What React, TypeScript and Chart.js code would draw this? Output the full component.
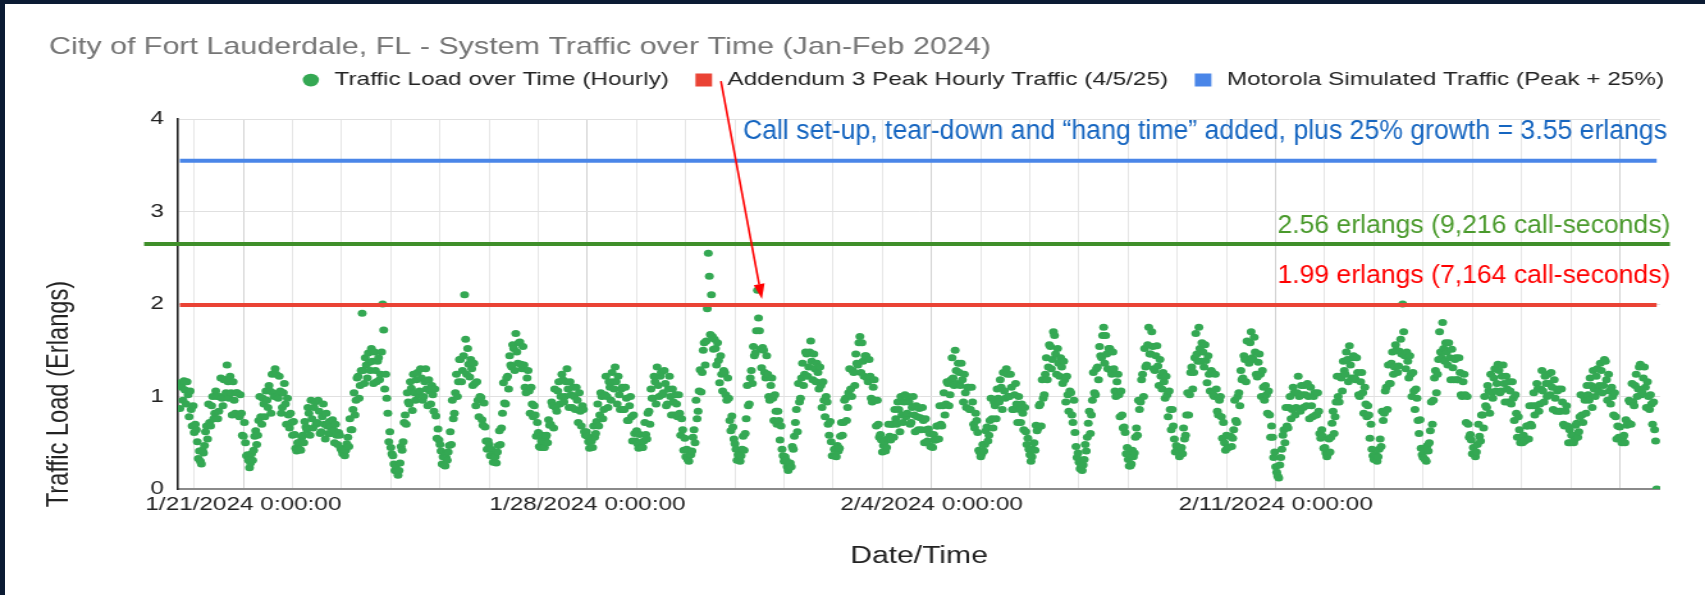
import React, { useEffect, useRef } from 'react';
import { Chart, registerables } from 'chart.js';

Chart.register(...registerables);

// ---------------- data ----------------
const CHART_TITLE = 'City of Fort Lauderdale, FL - System Traffic over Time (Jan-Feb 2024)';
const SERIES_LABELS = [
  'Traffic Load over Time (Hourly)',
  'Addendum 3 Peak Hourly Traffic (4/5/25)',
  'Motorola Simulated Traffic (Peak + 25%)',
];
const X_AXIS_TITLE = 'Date/Time';
const Y_AXIS_TITLE = 'Traffic Load (Erlangs)';

// x axis unit: days since 1/21/2024 0:00:00
const X_TICK_DAYS = [0, 7, 14, 21];
const X_TICK_LABELS = ['1/21/2024 0:00:00', '1/28/2024 0:00:00', '2/4/2024 0:00:00', '2/11/2024 0:00:00'];
const X_GRID_DAYS = [-1, 0, 1, 2, 3, 4, 5, 6, 7, 8, 9, 10, 11, 12, 13, 14, 15, 16, 17, 18, 19, 20, 21, 22, 23, 24, 25, 26, 27, 28];
const X_RANGE = [-1.33, 28.82];
const Y_RANGE = [0, 4];

// rolling hourly load, read every 30 minutes, first sample 1/19/2024 17:00
const FIRST_SAMPLE_HOUR = -31; // hours relative to 1/21 0:00
const SAMPLES_PER_HOUR = 2;

const LOAD_JAN19_JAN22 = [
  // 1/19 17:00-23:30
  0.87, 1.15, 1.1, 0.96, 1.17, 1.07, 0.92, 1.16, 1.02, 0.78, 1.06, 0.86, 0.68, 0.9,
  // 1/20
  0.61, 0.7, 0.64, 0.51, 0.33, 0.41, 0.3, 0.27, 0.42, 0.39, 0.47, 0.62, 0.68, 0.54, 0.92, 0.72, 0.68, 0.9, 1.0, 0.76, 0.82, 1.06, 1.0, 0.76,
  0.84, 1.0, 1.2, 0.98, 0.9, 1.18, 1.18, 1.04, 1.34, 1.16, 0.98, 1.22, 1.04, 0.8, 1.16, 0.96, 0.82, 1.04, 1.04, 0.8, 0.78, 1.02, 0.82, 0.58,
  // 1/21
  0.57, 0.72, 0.5, 0.36, 0.37, 0.31, 0.23, 0.28, 0.38, 0.31, 0.42, 0.57, 0.63, 0.48, 0.58, 0.74, 1.0, 0.78, 0.7, 0.98, 0.92, 0.78, 1.06, 0.96,
  0.88, 1.12, 1.06, 0.82, 1.24, 1.04, 1.0, 1.3, 1.24, 1.0, 0.98, 1.22, 1.06, 0.82, 0.88, 1.04, 1.14, 0.92, 0.7, 0.98, 0.8, 0.66, 0.82, 0.72,
  // 1/22
  0.58, 0.73, 0.59, 0.44, 0.41, 0.5, 0.5, 0.43, 0.42, 0.56, 0.58, 0.5, 0.73, 0.67, 0.64, 0.88, 0.82, 0.58, 0.96, 0.76, 0.66, 0.88, 0.94, 0.7,
  0.72, 0.96, 0.84, 0.6, 0.62, 0.78, 0.92, 0.7, 0.54, 0.82, 0.68, 0.6, 0.73, 0.67, 0.6, 0.75, 0.64, 0.5, 0.7, 0.58, 0.48, 0.61, 0.58, 0.44,
];

const LOAD_JAN23_JAN26 = [
  // 1/23
  0.42, 0.38, 0.4, 0.36, 0.42, 0.49, 0.56, 0.46, 0.76, 0.64, 0.64, 0.86, 1.04, 0.8, 0.96, 1.2, 1.22, 0.98, 1.12, 1.28, 1.9, 1.28, 1.14, 1.42,
  1.34, 1.2, 1.47, 1.37, 1.28, 1.52, 1.38, 1.14, 1.48, 1.28, 1.16, 1.38, 1.42, 1.18, 1.24, 1.48, 2.0, 1.72, 1.08, 1.24, 0.98, 0.82, 0.51, 0.62,
  // 1/24
  0.45, 0.38, 0.36, 0.27, 0.2, 0.25, 0.19, 0.15, 0.2, 0.28, 0.46, 0.42, 0.51, 0.72, 0.8, 0.7, 1.04, 0.94, 0.92, 1.16, 1.09, 0.85, 1.24, 1.04,
  0.96, 1.18, 1.26, 1.02, 1.06, 1.3, 1.2, 0.96, 1.0, 1.16, 1.3, 1.08, 0.9, 1.18, 1.06, 0.92, 1.12, 1.02, 0.84, 1.08, 0.79, 0.55, 0.65, 0.53,
  // 1/25
  0.48, 0.41, 0.27, 0.35, 0.26, 0.25, 0.34, 0.31, 0.4, 0.47, 0.62, 0.48, 0.96, 0.76, 0.82, 1.04, 1.24, 1.0, 1.16, 1.4, 1.4, 1.16, 1.28, 1.44,
  2.1, 1.62, 1.24, 1.52, 1.35, 1.21, 1.4, 1.3, 1.12, 1.36, 1.14, 0.9, 1.16, 0.96, 0.78, 1.0, 0.99, 0.75, 0.69, 0.93, 0.67, 0.52, 0.43, 0.52,
  // 1/26
  0.48, 0.36, 0.43, 0.37, 0.29, 0.35, 0.35, 0.28, 0.4, 0.47, 0.63, 0.48, 0.66, 0.82, 1.15, 0.93, 0.92, 1.2, 1.22, 1.08, 1.44, 1.34, 1.32, 1.56,
  1.52, 1.28, 1.68, 1.48, 1.36, 1.58, 1.59, 1.35, 1.3, 1.54, 1.34, 1.1, 1.04, 1.2, 1.28, 1.06, 0.82, 1.1, 0.92, 0.78, 0.9, 0.8, 0.57, 0.72,
];

const LOAD_JAN27_JAN30 = [
  // 1/27
  0.61, 0.46, 0.45, 0.52, 0.58, 0.45, 0.45, 0.56, 0.58, 0.5, 0.75, 0.69, 0.7, 0.94, 0.9, 0.66, 1.08, 0.88, 0.84, 1.06, 1.16, 0.92, 1.0, 1.24,
  1.18, 0.94, 1.0, 1.16, 1.3, 1.08, 0.88, 1.16, 1.02, 0.88, 1.1, 1.0, 0.86, 1.1, 0.96, 0.72, 1.04, 0.84, 0.68, 0.9, 0.86, 0.62, 0.58, 0.62,
  // 1/28
  0.57, 0.51, 0.44, 0.55, 0.52, 0.45, 0.68, 0.56, 0.6, 0.73, 0.92, 0.68, 0.8, 1.04, 1.0, 0.76, 0.86, 1.02, 1.22, 1.0, 0.88, 1.16, 1.1, 0.96,
  1.26, 1.16, 1.08, 1.32, 1.16, 0.92, 1.22, 1.02, 0.86, 1.08, 1.1, 0.86, 0.86, 1.1, 0.98, 0.74, 0.74, 0.9, 1.0, 0.78, 0.52, 0.8, 0.6, 0.52,
  // 1/29
  0.63, 0.49, 0.44, 0.59, 0.5, 0.45, 0.45, 0.52, 0.72, 0.59, 0.54, 0.82, 0.84, 0.7, 1.08, 0.98, 0.98, 1.22, 1.16, 0.92, 1.32, 1.12, 1.0, 1.22,
  1.26, 1.02, 1.04, 1.28, 1.14, 0.9, 0.92, 1.08, 1.22, 1.0, 0.8, 1.08, 0.94, 0.8, 1.02, 0.92, 0.78, 1.02, 0.82, 0.58, 0.76, 0.64, 0.42, 0.55,
  // 1/30
  0.35, 0.43, 0.32, 0.3, 0.4, 0.37, 0.41, 0.56, 0.64, 0.5, 0.96, 0.76, 0.84, 1.06, 1.29, 1.05, 1.26, 1.5, 1.58, 1.34, 1.6, 1.95, 2.55, 2.3,
  1.67, 2.1, 1.65, 1.51, 1.62, 1.52, 1.34, 1.58, 1.39, 1.15, 1.44, 1.24, 1.06, 1.28, 1.26, 1.02, 0.96, 1.2, 0.98, 0.74, 0.63, 0.79, 0.67, 0.54,
];

const LOAD_JAN31_FEB03 = [
  // 1/31
  0.49, 0.43, 0.31, 0.37, 0.35, 0.3, 0.36, 0.43, 0.57, 0.42, 0.6, 0.76, 1.12, 0.9, 0.92, 1.2, 1.28, 1.14, 1.54, 1.44, 1.47, 1.71, 2.15, 1.85,
  1.71, 1.51, 1.31, 1.53, 1.5, 1.26, 1.2, 1.44, 1.24, 1.0, 0.96, 1.12, 1.2, 0.98, 0.74, 1.02, 0.84, 0.7, 0.84, 0.74, 0.53, 0.68, 0.43, 0.36,
  // 2/1
  0.3, 0.35, 0.31, 0.24, 0.2, 0.23, 0.28, 0.24, 0.46, 0.43, 0.57, 0.72, 0.86, 0.62, 1.14, 0.94, 0.98, 1.2, 1.36, 1.12, 1.24, 1.48, 1.46, 1.22,
  1.32, 1.48, 1.6, 1.38, 1.18, 1.46, 1.3, 1.16, 1.36, 1.26, 1.08, 1.32, 1.12, 0.88, 1.16, 0.96, 0.78, 1.0, 0.94, 0.7, 0.58, 0.73, 0.51, 0.36,
  // 2/2
  0.36, 0.43, 0.36, 0.35, 0.47, 0.41, 0.44, 0.57, 0.72, 0.58, 0.72, 0.96, 0.98, 0.74, 0.88, 1.04, 1.3, 1.08, 1.0, 1.28, 1.26, 1.12, 1.46, 1.36,
  1.34, 1.58, 1.65, 1.26, 1.58, 1.38, 1.22, 1.44, 1.44, 1.2, 1.16, 1.4, 1.22, 0.98, 0.94, 1.1, 1.18, 0.96, 0.68, 0.96, 0.7, 0.56, 0.59, 0.53,
  // 2/3
  0.4, 0.47, 0.51, 0.41, 0.45, 0.54, 0.7, 0.57, 0.53, 0.7, 0.7, 0.56, 0.86, 0.76, 0.7, 0.94, 0.86, 0.62, 1.0, 0.8, 0.72, 0.94, 1.02, 0.78,
  0.82, 1.0, 0.94, 0.7, 0.72, 0.88, 1.0, 0.8, 0.62, 0.9, 0.78, 0.64, 0.87, 0.77, 0.64, 0.88, 0.74, 0.5, 0.76, 0.64, 0.52, 0.65, 0.6, 0.46,
];

const LOAD_FEB04_FEB07 = [
  // 2/4
  0.46, 0.45, 0.59, 0.53, 0.53, 0.68, 0.68, 0.54, 0.9, 0.7, 0.68, 0.9, 1.04, 0.8, 0.92, 1.16, 1.14, 0.9, 1.02, 1.18, 1.42, 1.2, 1.12, 1.5,
  1.28, 1.14, 1.36, 1.26, 1.12, 1.36, 1.18, 0.94, 1.24, 1.04, 0.88, 1.1, 1.1, 0.86, 0.86, 1.1, 0.94, 0.7, 0.66, 0.82, 0.74, 0.61, 0.42, 0.4,
  // 2/5
  0.35, 0.38, 0.48, 0.41, 0.48, 0.63, 0.67, 0.52, 0.58, 0.74, 0.98, 0.76, 0.66, 0.94, 0.9, 0.76, 1.08, 0.98, 0.94, 1.18, 1.1, 0.86, 1.26, 1.06,
  0.98, 1.3, 1.24, 1.0, 1.0, 1.24, 1.1, 0.86, 0.86, 1.02, 1.14, 0.92, 0.72, 1.0, 0.86, 0.72, 0.92, 0.82, 0.64, 0.88, 0.62, 0.48, 0.55, 0.43,
  // 2/6
  0.37, 0.3, 0.35, 0.43, 0.5, 0.42, 0.69, 0.63, 0.66, 0.9, 0.92, 0.68, 1.18, 0.98, 1.02, 1.24, 1.42, 1.18, 1.32, 1.56, 1.54, 1.3, 1.4, 1.7,
  1.66, 1.46, 1.24, 1.52, 1.36, 1.22, 1.42, 1.32, 1.14, 1.38, 1.18, 0.94, 1.22, 1.02, 0.84, 1.06, 1.04, 0.8, 0.72, 0.96, 0.61, 0.46, 0.34, 0.39,
  // 2/7
  0.29, 0.22, 0.26, 0.2, 0.26, 0.32, 0.48, 0.41, 0.56, 0.71, 0.84, 0.6, 0.8, 0.96, 1.26, 1.04, 1.02, 1.3, 1.32, 1.18, 1.54, 1.44, 1.42, 1.66,
  1.75, 1.36, 1.66, 1.46, 1.3, 1.52, 1.52, 1.28, 1.24, 1.48, 1.3, 1.06, 1.0, 1.16, 1.24, 1.02, 0.78, 1.06, 0.8, 0.66, 0.67, 0.61, 0.38, 0.45,
];

const LOAD_FEB08_FEB11 = [
  // 2/8
  0.32, 0.25, 0.25, 0.27, 0.42, 0.35, 0.39, 0.56, 0.66, 0.58, 0.96, 0.86, 0.94, 1.18, 1.24, 1.0, 1.52, 1.32, 1.34, 1.56, 1.75, 1.46, 1.46, 1.7,
  1.54, 1.3, 1.28, 1.44, 1.55, 1.33, 1.12, 1.4, 1.22, 1.08, 1.26, 1.16, 0.98, 1.22, 1.02, 0.78, 1.06, 0.86, 0.64, 0.86, 0.68, 0.54, 0.4, 0.47,
  // 2/9
  0.44, 0.41, 0.35, 0.41, 0.45, 0.38, 0.66, 0.54, 0.58, 0.8, 1.04, 0.8, 1.02, 1.26, 1.32, 1.08, 1.26, 1.42, 1.68, 1.46, 1.38, 1.75, 1.52, 1.38,
  1.58, 1.48, 1.32, 1.56, 1.39, 1.15, 1.44, 1.24, 1.06, 1.28, 1.26, 1.02, 1.0, 1.24, 1.08, 0.84, 0.8, 0.96, 1.0, 0.78, 0.55, 0.72, 0.5, 0.42,
  // 2/10
  0.58, 0.45, 0.45, 0.57, 0.57, 0.46, 0.55, 0.64, 0.96, 0.74, 0.72, 1.0, 1.04, 0.9, 1.28, 1.18, 1.2, 1.44, 1.4, 1.16, 1.6, 1.4, 1.36, 1.58,
  1.7, 1.42, 1.4, 1.64, 1.48, 1.24, 1.21, 1.37, 1.46, 1.24, 1.0, 1.28, 1.1, 0.96, 1.12, 1.02, 0.82, 1.06, 0.8, 0.56, 0.68, 0.56, 0.34, 0.4,
  // 2/11
  0.24, 0.18, 0.14, 0.12, 0.26, 0.34, 0.43, 0.58, 0.64, 0.5, 0.88, 0.68, 0.66, 0.88, 1.0, 0.76, 0.86, 1.1, 1.04, 0.8, 0.88, 1.04, 1.22, 1.0,
  0.84, 1.12, 1.02, 0.88, 1.12, 1.02, 0.9, 1.14, 1.0, 0.76, 1.1, 0.9, 0.78, 1.0, 1.04, 0.8, 0.8, 1.04, 0.84, 0.6, 0.55, 0.64, 0.57, 0.44,
];

const LOAD_FEB12_FEB15 = [
  // 2/12
  0.45, 0.39, 0.35, 0.38, 0.54, 0.4, 0.56, 0.71, 0.84, 0.6, 0.78, 0.94, 1.22, 1.0, 0.94, 1.22, 1.2, 1.06, 1.38, 1.28, 1.24, 1.48, 1.4, 1.16,
  1.55, 1.34, 1.2, 1.42, 1.44, 1.2, 1.18, 1.42, 1.26, 1.02, 1.0, 1.16, 1.26, 1.04, 0.82, 1.1, 0.92, 0.78, 0.9, 0.8, 0.55, 0.7, 0.43, 0.36,
  // 2/13
  0.32, 0.37, 0.37, 0.3, 0.35, 0.43, 0.54, 0.46, 0.84, 0.74, 0.82, 1.06, 1.1, 0.86, 1.34, 1.14, 1.14, 1.36, 1.48, 1.24, 1.32, 1.56, 1.5, 1.26,
  1.33, 1.49, 1.62, 1.46, 2.0, 1.7, 1.44, 1.3, 1.48, 1.38, 1.2, 1.44, 1.24, 1.0, 1.26, 1.06, 0.86, 1.08, 0.98, 0.74, 0.6, 0.75, 0.44, 0.37,
  // 2/14
  0.34, 0.41, 0.32, 0.3, 0.47, 0.41, 0.5, 0.63, 0.94, 0.7, 0.96, 1.2, 1.28, 1.04, 1.24, 1.4, 1.7, 1.48, 1.42, 1.8, 1.52, 1.38, 1.58, 1.48,
  1.34, 1.58, 1.42, 1.18, 1.51, 1.31, 1.18, 1.4, 1.42, 1.18, 1.18, 1.42, 1.26, 1.02, 1.0, 1.16, 1.24, 1.02, 0.72, 1.0, 0.7, 0.56, 0.59, 0.53,
  // 2/15
  0.38, 0.45, 0.38, 0.35, 0.4, 0.48, 0.7, 0.57, 0.52, 0.8, 0.8, 0.66, 1.0, 0.9, 0.88, 1.12, 1.06, 0.82, 1.24, 1.04, 0.98, 1.2, 1.3, 1.06,
  1.14, 1.35, 1.28, 1.04, 1.06, 1.22, 1.34, 1.14, 0.94, 1.22, 1.08, 0.94, 1.16, 1.06, 0.92, 1.16, 0.98, 0.74, 1.02, 0.82, 0.56, 0.78, 0.64, 0.5,
];

const LOAD_FEB16_FEB18 = [
  // 2/16
  0.55, 0.5, 0.58, 0.52, 0.53, 0.68, 0.68, 0.54, 0.9, 0.7, 0.68, 0.9, 1.04, 0.8, 0.9, 1.14, 1.08, 0.84, 0.92, 1.08, 1.28, 1.06, 0.94, 1.22,
  1.14, 1.0, 1.24, 1.14, 1.02, 1.26, 1.1, 0.86, 1.18, 0.98, 0.84, 1.06, 1.08, 0.84, 0.84, 1.08, 0.94, 0.7, 0.68, 0.84, 0.9, 0.68, 0.5, 0.64,
  // 2/17
  0.5, 0.58, 0.58, 0.5, 0.54, 0.69, 0.71, 0.56, 0.62, 0.78, 1.02, 0.8, 0.72, 1.0, 0.96, 0.82, 1.12, 1.02, 0.96, 1.2, 1.12, 0.88, 1.28, 1.08,
  1.0, 1.22, 1.3, 1.06, 1.12, 1.36, 1.28, 1.04, 1.12, 1.4, 1.38, 1.18, 0.96, 1.24, 1.06, 0.92, 1.1, 1.0, 0.8, 1.04, 0.78, 0.54, 0.68, 0.56,
  // 2/18 0:00-18:00
  0.67, 0.54, 0.5, 0.56, 0.58, 0.5, 0.75, 0.69, 0.72, 0.96, 0.94, 0.7, 1.14, 0.94, 0.9, 1.12, 1.24, 1.0, 1.08, 1.32, 1.35, 1.02, 1.04, 1.2,
  1.32, 1.1, 0.88, 1.16, 1.0, 0.86, 1.02, 0.92, 0.7, 0.94, 0.64, 0.52, 0.0,
];

const LOAD_SAMPLES = [
  ...LOAD_JAN19_JAN22,
  ...LOAD_JAN23_JAN26,
  ...LOAD_JAN27_JAN30,
  ...LOAD_JAN31_FEB03,
  ...LOAD_FEB04_FEB07,
  ...LOAD_FEB08_FEB11,
  ...LOAD_FEB12_FEB15,
  ...LOAD_FEB16_FEB18,
];

const ADDENDUM_PEAK = 1.99;
const MOTOROLA_PEAK = 3.55;
// hand-drawn slide overlays (in data units)
const DRAWN_LINE_LEVEL = 2.65;
const DRAWN_LINE_SPAN = [-2.02, 29.02];
const NOTE_TEXTS = [
  'Call set-up, tear-down and \u201Chang time\u201D added, plus 25% growth = 3.55 erlangs',
  '2.56 erlangs (9,216 call-seconds)',
  '1.99 erlangs (7,164 call-seconds)',
];
const NOTE_ANCHORS = [
  { x: 28.96, y: 3.86 },
  { x: 29.03, y: 2.84 },
  { x: 29.03, y: 2.3 },
];
const ARROW_FROM = { x: 9.715, y: 4.41 };
const ARROW_TO = { x: 10.549, y: 2.054 };

// ---------------- styling ----------------
const FULL_W = 1705;
const FULL_H = 595;
const BMP_W = 1332;
const STRETCH = FULL_W / BMP_W;
const FONT = "'Liberation Sans', Arial, sans-serif";
const GREEN = '#34a853';
const RED = '#ea4335';
const BLUE = '#4a86e8';

const NOTE_STYLES = [
  { color: '#1565c0', size: 27, family: "'Liberation Sans Narrow', 'Liberation Sans', Arial, sans-serif", width: 924 },
  { color: '#4a9a2c', size: 25, family: FONT, width: 393 },
  { color: '#ff0000', size: 25, family: FONT, width: 393 },
];

const overlayPlugin = {
  id: 'slideOverlay',
  afterDraw(chart: any) {
    const { ctx, scales } = chart;
    const xs = scales.x;
    const ys = scales.y;
    ctx.save();
    ctx.strokeStyle = '#3f8f2a';
    ctx.lineWidth = 4;
    ctx.beginPath();
    ctx.moveTo(xs.getPixelForValue(DRAWN_LINE_SPAN[0]), ys.getPixelForValue(DRAWN_LINE_LEVEL));
    ctx.lineTo(xs.getPixelForValue(DRAWN_LINE_SPAN[1]), ys.getPixelForValue(DRAWN_LINE_LEVEL));
    ctx.stroke();

    NOTE_TEXTS.forEach((t, i) => {
      const st = NOTE_STYLES[i];
      const a = NOTE_ANCHORS[i];
      ctx.save();
      ctx.font = `${st.size}px ${st.family}`;
      ctx.fillStyle = st.color;
      ctx.textAlign = 'right';
      ctx.textBaseline = 'middle';
      const w = ctx.measureText(t).width;
      ctx.translate(xs.getPixelForValue(a.x), ys.getPixelForValue(a.y));
      ctx.scale(st.width / STRETCH / w, 1);
      ctx.fillText(t, 0, 0);
      ctx.restore();
    });

    const x0 = xs.getPixelForValue(ARROW_FROM.x);
    const y0 = ys.getPixelForValue(ARROW_FROM.y);
    const x1 = xs.getPixelForValue(ARROW_TO.x);
    const y1 = ys.getPixelForValue(ARROW_TO.y);
    const dxF = (x1 - x0) * STRETCH;
    const dyF = y1 - y0;
    const len = Math.hypot(dxF, dyF);
    const ux = dxF / len, uy = dyF / len;
    const headL = 15, headW = 5.5;
    const bx = x1 * STRETCH - ux * headL, by = y1 - uy * headL;
    ctx.strokeStyle = '#ff0000';
    ctx.fillStyle = '#ff0000';
    ctx.lineWidth = 1.6;
    ctx.beginPath();
    ctx.moveTo(x0, y0);
    ctx.lineTo(bx / STRETCH, by);
    ctx.stroke();
    ctx.beginPath();
    ctx.moveTo(x1, y1);
    ctx.lineTo((bx - uy * headW) / STRETCH, by + ux * headW);
    ctx.lineTo((bx + uy * headW) / STRETCH, by - ux * headW);
    ctx.closePath();
    ctx.fill();

    ctx.save();
    ctx.translate(chart.chartArea.left - 92.2, ys.getPixelForValue(1.027));
    ctx.rotate(-Math.PI / 2);
    ctx.font = `23.7px ${FONT}`;
    ctx.fillStyle = '#222';
    ctx.textAlign = 'center';
    ctx.textBaseline = 'middle';
    ctx.fillText(Y_AXIS_TITLE, 0, 0);
    ctx.restore();

    ctx.restore();
  },
};

export default function App() {
  const ref = useRef<HTMLCanvasElement>(null);

  useEffect(() => {
    const canvas = ref.current;
    if (!canvas) return;
    Chart.defaults.font.family = FONT;
    const sampleX = (i: number) => (FIRST_SAMPLE_HOUR + i / SAMPLES_PER_HOUR) / 24;
    const firstX = sampleX(0);
    const lastX = sampleX(LOAD_SAMPLES.length - 1);
    const chart = new Chart(canvas, {
      type: 'scatter',
      data: {
        datasets: [
          {
            label: SERIES_LABELS[0],
            data: LOAD_SAMPLES.map((v, i) => ({ x: sampleX(i), y: v })),
            backgroundColor: GREEN,
            borderColor: GREEN,
            pointRadius: 3.5,
            pointBorderWidth: 0,
            pointStyle: 'circle',
            order: 2,
          },
          {
            type: 'line',
            label: SERIES_LABELS[1],
            data: [{ x: firstX, y: ADDENDUM_PEAK }, { x: lastX, y: ADDENDUM_PEAK }],
            borderColor: RED,
            backgroundColor: RED,
            borderWidth: 4,
            pointRadius: 0,
            pointStyle: 'rect',
            order: 1,
          },
          {
            type: 'line',
            label: SERIES_LABELS[2],
            data: [{ x: firstX, y: MOTOROLA_PEAK }, { x: lastX, y: MOTOROLA_PEAK }],
            borderColor: BLUE,
            backgroundColor: BLUE,
            borderWidth: 4,
            pointRadius: 0,
            pointStyle: 'rect',
            order: 1,
          },
        ] as any,
      },
      options: {
        responsive: false,
        animation: false,
        devicePixelRatio: 1,
        events: [],
        layout: { padding: { left: 38.3, right: 13.7, top: 0, bottom: 0 } },
        plugins: {
          title: {
            display: true,
            text: CHART_TITLE,
            align: 'start',
            color: '#757575',
            font: { size: 23.8, weight: 'normal', lineHeight: 0.45 },
            padding: { top: 41.6, bottom: 0 },
          },
          subtitle: {
            display: true,
            text: '',
            weight: 500,
            font: { size: 10, lineHeight: 1 },
            padding: { top: 9.4, bottom: 0 },
          } as any,
          legend: {
            display: true,
            position: 'top',
            align: 'end',
            labels: {
              usePointStyle: true,
              boxWidth: 18,
              boxHeight: 9,
              padding: 18.3,
              color: '#222',
              font: { size: 19 },
              sort: (a: any, b: any) => a.datasetIndex - b.datasetIndex,
            },
          },
          tooltip: { enabled: false },
        },
        scales: {
          x: {
            type: 'linear',
            min: X_RANGE[0],
            max: X_RANGE[1],
            afterBuildTicks: (s: any) => {
              s.ticks = X_GRID_DAYS.map((d) => ({ value: d }));
            },
            afterFit: (s: any) => {
              s.height = 106;
            },
            ticks: {
              autoSkip: false,
              maxRotation: 0,
              minRotation: 0,
              padding: 4,
              color: '#222',
              font: { size: 19 },
              callback: (v: any) => {
                const i = X_TICK_DAYS.indexOf(Number(v));
                return i >= 0 ? X_TICK_LABELS[i] : '';
              },
            },
            grid: {
              drawTicks: false,
              lineWidth: 1,
              color: (c: any) => (c.tick && c.tick.value % 7 === 0 ? '#d2d2d2' : '#e6e6e6'),
            },
            border: { display: true, color: '#8a8a8a', width: 2 },
            title: {
              display: true,
              text: X_AXIS_TITLE,
              color: '#222',
              font: { size: 23.5 },
              padding: { top: 0, bottom: 23.9 },
            },
          },
          y: {
            type: 'linear',
            min: Y_RANGE[0],
            max: Y_RANGE[1],
            afterFit: (s: any) => {
              s.width = 100.76;
            },
            ticks: { stepSize: 1, padding: 11, color: '#222', font: { size: 19 } },
            grid: { drawTicks: false, color: '#e0e0e0', lineWidth: 1 },
            border: { display: true, color: '#222', width: 1.6 },
          },
          y2: {
            type: 'linear',
            position: 'right',
            display: true,
            min: 0,
            max: 4,
            afterFit: (s: any) => {
              s.width = 21.4;
            },
            ticks: { display: false },
            grid: { display: false },
            border: { display: false },
          },
        },
      } as any,
      plugins: [overlayPlugin],
    });
    return () => chart.destroy();
  }, []);

  return (
    <div
      style={{
        position: 'fixed',
        left: 0,
        top: 0,
        width: FULL_W,
        height: FULL_H,
        background: '#ffffff',
        overflow: 'hidden',
      }}
    >
      <canvas
        ref={ref}
        width={BMP_W}
        height={FULL_H}
        style={{ width: `${FULL_W}px`, height: `${FULL_H}px`, display: 'block' }}
      />
      <div style={{ position: 'absolute', left: 0, top: 0, width: FULL_W, height: 4, background: '#0b1b33' }} />
      <div style={{ position: 'absolute', left: 0, top: 0, width: 5, height: FULL_H, background: '#0b1b33' }} />
    </div>
  );
}
